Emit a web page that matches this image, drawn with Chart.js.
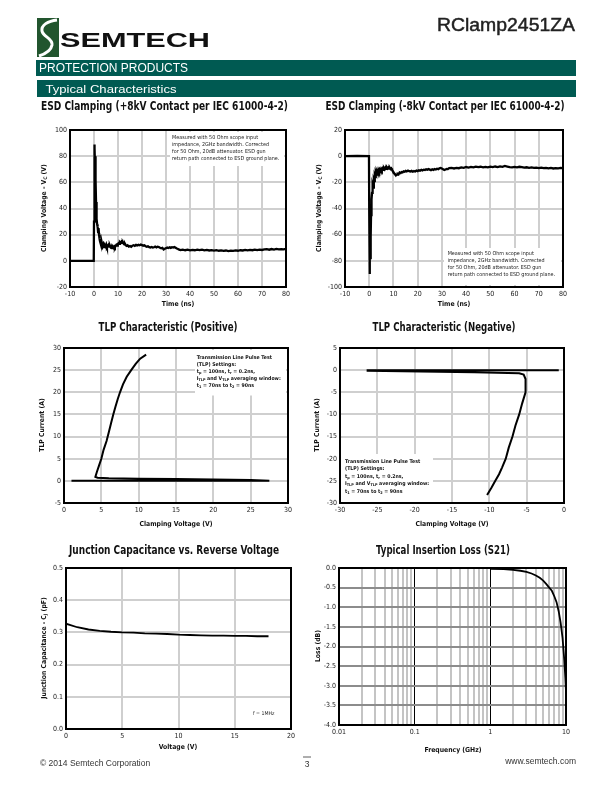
<!DOCTYPE html>
<html><head><meta charset="utf-8">
<script src="https://cdn.jsdelivr.net/npm/chart.js@4/dist/chart.umd.min.js"></script>
<style>
html,body{margin:0;padding:0;background:#fff}
body{width:612px;height:792px;position:relative;overflow:hidden}
canvas{position:absolute}
#ov{position:absolute;left:0;top:0;width:612px;height:792px;pointer-events:none}
.hd{font-family:"Liberation Sans",Arial,sans-serif}
.cn{font-family:"Liberation Sans Narrow","DejaVu Sans Condensed","Liberation Sans",sans-serif}
.bt{font-weight:bold}
</style>
</head><body>
<script>
// ---------- DATA ----------
const esdPosTime = [-10,-0.1,0.0,0.15,0.3,0.45,0.55,0.65,0.75,0.85,1.0,1.15,1.3,1.5,1.7,1.9,2.1,2.3,2.5,2.7,2.9,3.1,3.3,3.6,3.9,4.2,4.5,4.8,5.1,5.4,5.7,6.0,6.3,6.6,6.9,7.2,7.5,7.8,8.1,8.4,8.7,9.0,9.3,9.6,9.9,10.2,10.5,10.8,11.1,11.4,11.7,12.0,12.3,12.6,12.9,13.2,13.6,14.0,14.5,15.0,15.5,16.0,16.5,17.0,17.5,18.0,18.5,19.0,19.5,20.0,20.5,21.0,21.5,22.0,22.5,23.0,23.5,24.0,24.5,25.0,25.5,26.0,26.5,27.0,27.5,28.0,28.5,29.0,29.5,30.0,30.5,31.0,31.5,32.0,32.5,33.0,33.5,34.0,34.5,35.0,35.5,36.0,37,38,39,40,41,42,43,44,45,46,47,48,49,50,51,52,53,54,55,56,57,58,59,60,61,62,63,64,65,66,67,68,69,70,71,72,73,74,75,76,77,78,79,80];
const esdPosVolt = [0,0,30,89,86,70,80,55,62,45,38,32,28,26,22,25,20,17,15,16,13,12,13.5,11,12.5,10.5,12,11,12.5,10.5,11.5,12.2,10.8,11.8,10.5,11.2,9.8,10.8,10.0,11.0,10.2,11.5,12.2,11.6,12.8,13.5,12.9,14.2,13.6,14.5,13.8,14.2,13.2,12.6,13.0,12.0,11.4,11.9,10.9,11.3,10.7,11.6,11.9,11.4,12.2,11.8,12.3,11.9,12.4,12.0,11.6,11.9,11.2,10.8,11.1,10.5,10.2,10.6,10.1,10.4,10.9,10.3,10.8,10.6,10.0,9.6,9.9,8.7,9.3,9.7,10.2,9.8,10.3,9.9,10.4,10.1,10.6,10.0,9.4,9.1,8.5,8.2,8.6,8.1,8.5,8.0,8.4,8.1,8.6,8.2,8.5,8.0,8.3,7.9,8.2,7.8,8.1,7.7,8.0,7.6,7.9,7.5,7.8,7.6,8.0,7.7,8.1,7.9,8.3,8.0,8.4,8.1,8.5,8.2,8.6,8.3,8.7,8.9,8.5,9.0,8.6,9.1,8.7,9.0,8.8,9.1];

const esdNegTime = [-10,-5,-0.1,0.0,0.15,0.3,0.45,0.55,0.65,0.75,0.9,1.0,1.15,1.3,1.5,1.7,1.9,2.1,2.3,2.5,2.7,2.9,3.1,3.4,3.7,4.0,4.3,4.6,4.9,5.2,5.5,5.8,6.1,6.4,6.7,7.0,7.3,7.6,7.9,8.2,8.5,8.8,9.1,9.4,9.7,10.0,10.3,10.6,10.9,11.2,11.5,11.8,12.1,12.4,12.7,13.0,13.4,13.8,14.2,14.6,15.0,15.5,16.0,16.5,17.0,17.5,18.0,18.5,19.0,19.5,20.0,20.5,21.0,21.5,22.0,22.5,23.0,23.5,24.0,24.5,25.0,25.5,26.0,26.5,27.0,27.5,28.0,28.5,29.0,29.5,30.0,30.5,31.0,31.5,32.0,32.5,33.0,34,35,36,37,38,39,40,41,42,43,44,45,46,47,48,49,50,51,52,53,54,55,56,57,58,59,60,61,62,63,64,65,66,67,68,69,70,71,72,73,74,75,76,77,78,79,80];
const esdNegVolt = [0,0.2,0,-40,-90,-70,-78,-55,-62,-45,-40,-33,-28,-26,-22,-24,-18,-19,-15,-16,-13,-14,-11.5,-12.8,-10.5,-12.0,-10.2,-11.3,-9.8,-10.9,-9.5,-10.4,-9.1,-10.0,-8.8,-9.6,-8.6,-9.4,-8.7,-9.5,-8.9,-9.8,-9.3,-10.4,-11.2,-12.3,-13.1,-13.8,-14.2,-14.5,-14.0,-13.6,-13.9,-13.0,-12.6,-12.9,-12.1,-12.4,-11.6,-11.9,-11.2,-11.6,-11.0,-11.5,-11.8,-11.3,-11.9,-11.4,-11.7,-11.0,-11.4,-10.8,-11.1,-10.5,-10.9,-10.3,-10.6,-10.0,-10.4,-9.9,-10.3,-10.7,-10.1,-10.5,-9.8,-10.2,-9.6,-9.9,-9.3,-9.0,-9.4,-10.1,-10.6,-10.2,-9.7,-9.9,-9.2,-9.0,-9.4,-8.9,-9.2,-8.6,-8.9,-8.3,-8.7,-8.2,-8.5,-8.0,-8.4,-8.1,-8.6,-8.2,-8.5,-8.0,-8.4,-7.9,-8.3,-7.8,-8.1,-7.5,-7.9,-8.3,-8.6,-8.2,-8.5,-8.1,-8.4,-8.8,-8.5,-8.9,-8.6,-9.0,-8.7,-9.1,-8.8,-9.2,-8.9,-9.3,-9.0,-9.4,-9.1,-9.3,-9.0,-9.2];

const tlpPosVolt = [1.0,27.5,25,20,15,10,6,4.5,4.2,4.4,4.7,5.0,5.3,5.7,6.0,6.3,6.6,6.9,7.2,7.5,7.9,8.4,9.0,9.6,10.2,11.0];
const tlpPosCurr = [0.0,0.0,0.2,0.3,0.4,0.5,0.6,0.7,0.9,2.0,3.5,5.0,7.0,9.0,11.0,13.0,15.0,16.8,18.5,20.0,21.8,23.5,25.0,26.4,27.6,28.5];

const tlpNegVolt = [-0.7,-26.3,-26.3,-12,-6,-5.4,-5.15,-5.1,-5.2,-5.6,-6.0,-6.5,-6.9,-7.4,-7.8,-8.3,-8.7,-9.2,-9.7,-10.3];
const tlpNegCurr = [0.0,0.0,-0.15,-0.5,-0.7,-1.0,-2.0,-3.5,-5.0,-7.5,-10.0,-12.5,-15.0,-17.5,-20.0,-22.0,-23.5,-25.0,-26.5,-28.2];

const capVolt = [0,1,2,3,4,5,6,7,8,9,10,11,12,13,14,15,16,17,18];
const capPF = [0.327,0.316,0.309,0.305,0.302,0.300,0.299,0.297,0.296,0.295,0.293,0.292,0.291,0.290,0.290,0.289,0.289,0.288,0.288];

const ilFreqGHz = [1.0,1.5,2.0,2.5,3.0,3.5,4.0,4.5,5.0,5.5,6.0,6.5,7.0,7.5,8.0,8.5,9.0,9.5,9.8,10.0];
const ilLossDB = [-0.02,-0.03,-0.05,-0.07,-0.10,-0.14,-0.19,-0.25,-0.32,-0.41,-0.50,-0.58,-0.72,-0.87,-1.10,-1.40,-1.78,-2.35,-2.80,-3.15];

const ilGridFreqs = [0.01,0.02,0.03,0.04,0.05,0.06,0.07,0.08,0.09,0.1,0.2,0.3,0.4,0.5,0.6,0.7,0.8,0.9,1,2,3,4,5,6,7,8,9,10];
const ilTickLabels = [0.01,0.1,1,10];

// ---------- CHART SETUP ----------
const FONT = '"Liberation Sans Narrow","DejaVu Sans Condensed","Liberation Sans",sans-serif';
Chart.defaults.font.family = FONT;
Chart.defaults.font.size = 7;
Chart.defaults.color = '#1a1a1a';
Chart.defaults.animation = false;
Chart.defaults.responsive = false;

const framePlugin = {
  id: 'frame',
  afterDraw(chart) {
    const a = chart.chartArea, c = chart.ctx;
    c.save(); c.strokeStyle = '#000'; c.lineWidth = 2;
    c.strokeRect(a.left, a.top, a.right - a.left, a.bottom - a.top);
    c.restore();
  }
};

function pts(xs, ys) { return xs.map((x, i) => ({x, y: ys[i]})); }

function linAxis(min, max, step, fmt, gridColor) {
  return {
    type: 'linear', min, max,
    ticks: { stepSize: step, padding: 3, autoSkip: false, maxRotation: 0, callback: fmt || (v => String(v)) },
    grid: { color: gridColor || '#cfcfcf', lineWidth: 2, drawTicks: false, tickLength: 0 },
    border: { display: false }
  };
}

function makeChart(area, datasets, xs, ys) {
  const PADL = 40, PADT = 10, PADR = 16, PADB = 22;
  const cv = document.createElement('canvas');
  const x = area.l - PADL, y = area.t - PADT;
  const w = area.r - area.l + PADL + PADR, h = area.b - area.t + PADT + PADB;
  cv.width = w; cv.height = h;
  cv.style.left = x + 'px'; cv.style.top = y + 'px';
  cv.style.width = w + 'px'; cv.style.height = h + 'px';
  document.body.appendChild(cv);
  xs.afterFit = s => { s.height = PADB; };
  ys.afterFit = s => { s.width = PADL; };
  return new Chart(cv, {
    type: 'scatter',
    data: { datasets },
    options: {
      layout: { padding: { left: 0, top: PADT, right: PADR, bottom: 0 } },
      plugins: { legend: { display: false }, tooltip: { enabled: false } },
      scales: { x: xs, y: ys },
      elements: { point: { radius: 0 }, line: { tension: 0 } }
    },
    plugins: [framePlugin]
  });
}

function lineSet(xs, ys, w) {
  return { data: pts(xs, ys), showLine: true, borderColor: '#000', borderWidth: w || 2, pointRadius: 0, fill: false };
}

// Chart 1: ESD +
makeChart({l:70, t:130, r:286, b:287},
  [lineSet(esdPosTime, esdPosVolt, 2.3)],
  linAxis(-10, 80, 10), linAxis(-20, 100, 20));

// Chart 2: ESD -
makeChart({l:345, t:130, r:563, b:287},
  [lineSet(esdNegTime, esdNegVolt, 2.3)],
  linAxis(-10, 80, 10), linAxis(-100, 20, 20));

// Chart 3: TLP positive
makeChart({l:64, t:348, r:288, b:503},
  [lineSet(tlpPosVolt, tlpPosCurr, 2)],
  linAxis(0, 30, 5), linAxis(-5, 30, 5));

// Chart 4: TLP negative
makeChart({l:340, t:348, r:564, b:503},
  [lineSet(tlpNegVolt, tlpNegCurr, 2)],
  linAxis(-30, 0, 5), linAxis(-30, 5, 5));

// Chart 5: capacitance
makeChart({l:66, t:568, r:291, b:729},
  [lineSet(capVolt, capPF, 1.8)],
  linAxis(0, 20, 5), linAxis(0, 0.5, 0.1, v => v.toFixed(1)));

// Chart 6: insertion loss
const ilX = {
  type: 'logarithmic', min: 0.01, max: 10,
  afterBuildTicks: s => { s.ticks = ilGridFreqs.map(v => ({value: v})); },
  ticks: { autoSkip: false, maxRotation: 0, padding: 3, callback: v => ilTickLabels.includes(v) ? String(v) : '' },
  grid: {
    drawTicks: false, tickLength: 0,
    color: c => (c.tick && (c.tick.value === 0.1 || c.tick.value === 1)) ? '#000' : '#c4c4c4',
    lineWidth: c => (c.tick && (c.tick.value === 0.1 || c.tick.value === 1)) ? 1 : 2
  },
  border: { display: false }
};
makeChart({l:339, t:568, r:566, b:725},
  [lineSet(ilFreqGHz, ilLossDB, 1.8)],
  ilX, linAxis(-4, 0, 0.5, v => v.toFixed(1), '#8c8c8c'));
</script>

<svg id="ov" xmlns="http://www.w3.org/2000/svg" width="612" height="792" viewBox="0 0 612 792">
  <!-- Header -->
  <rect x="37" y="18" width="22" height="39" fill="#22552e"/>
  <path d="M21,20 C12,21 5,25 6,31 C7,37 17,38 16,45 C15,51 9,54 3,56" transform="translate(36,0)" fill="none" stroke="#fff" stroke-width="3"/>
  <text class="hd" x="60" y="47" font-size="21" font-weight="900" textLength="150" lengthAdjust="spacingAndGlyphs" fill="#111">SEMTECH</text>
  <text class="hd" x="575" y="31" text-anchor="end" font-size="17.5" fill="#222" stroke="#222" stroke-width="0.45" textLength="138" lengthAdjust="spacingAndGlyphs">RClamp2451ZA</text>
  <rect x="36" y="60" width="540" height="16" fill="#005a52"/>
  <text class="hd" x="39" y="72" font-size="12.5" fill="#fff" textLength="149" lengthAdjust="spacingAndGlyphs">PROTECTION PRODUCTS</text>
  <rect x="37" y="80" width="539" height="17" fill="#005a52"/>
  <text class="hd" x="45.5" y="92.5" font-size="11.5" fill="#fff" textLength="131" lengthAdjust="spacingAndGlyphs">Typical Characteristics</text>

  <!-- Chart titles -->
  <g class="cn bt" font-size="11.5" fill="#111" text-anchor="middle">
    <text x="164.5" y="110" textLength="247" lengthAdjust="spacingAndGlyphs">ESD Clamping (+8kV Contact per IEC 61000-4-2)</text>
    <text x="445" y="110" textLength="239" lengthAdjust="spacingAndGlyphs">ESD Clamping (-8kV Contact per IEC 61000-4-2)</text>
    <text x="168" y="331" textLength="139" lengthAdjust="spacingAndGlyphs">TLP Characteristic (Positive)</text>
    <text x="444" y="331" textLength="143" lengthAdjust="spacingAndGlyphs">TLP Characteristic (Negative)</text>
    <text x="174" y="554" textLength="210" lengthAdjust="spacingAndGlyphs">Junction Capacitance vs. Reverse Voltage</text>
    <text x="443" y="554" textLength="134" lengthAdjust="spacingAndGlyphs">Typical Insertion Loss (S21)</text>
  </g>

  <!-- Axis titles -->
  <g class="cn bt" font-size="6.8" fill="#111" text-anchor="middle">
    <text x="178" y="305.5">Time (ns)</text>
    <text x="454" y="305.5">Time (ns)</text>
    <text transform="translate(45.5,208) rotate(-90)">Clamping Voltage - V<tspan font-size="4.8" dy="1.2">C</tspan><tspan dy="-1.2"> (V)</tspan></text>
    <text transform="translate(320.5,208) rotate(-90)">Clamping Voltage - V<tspan font-size="4.8" dy="1.2">C</tspan><tspan dy="-1.2"> (V)</tspan></text>
    <text x="176" y="525.5">Clamping Voltage (V)</text>
    <text x="452" y="525.5">Clamping Voltage (V)</text>
    <text transform="translate(44,425) rotate(-90)">TLP Current (A)</text>
    <text transform="translate(319,425) rotate(-90)">TLP Current (A)</text>
    <text x="178" y="748.5">Voltage (V)</text>
    <text transform="translate(45.5,648) rotate(-90)">Junction Capacitance - C<tspan font-size="4.8" dy="1.2">J</tspan><tspan dy="-1.2"> (pF)</tspan></text>
    <text x="453" y="752">Frequency (GHz)</text>
    <text transform="translate(319.5,646) rotate(-90)">Loss (dB)</text>
  </g>

  <!-- Annotations -->
  <rect x="170" y="132" width="114" height="34" fill="#fff"/>
  <g class="cn" font-size="5.4" fill="#222">
    <text x="172" y="139.2">Measured with 50 Ohm scope input</text>
    <text x="172" y="145.9">impedance, 2GHz bandwidth. Corrected</text>
    <text x="172" y="152.6">for 50 Ohm, 20dB attenuator. ESD gun</text>
    <text x="172" y="159.6">return path connected to ESD ground plane.</text>
  </g>
  <rect x="444" y="248" width="117" height="37" fill="#fff"/>
  <g class="cn" font-size="5.4" fill="#222">
    <text x="447.7" y="255.2">Measured with 50 Ohm scope input</text>
    <text x="447.7" y="261.9">impedance, 2GHz bandwidth. Corrected</text>
    <text x="447.7" y="268.9">for 50 Ohm, 20dB attenuator. ESD gun</text>
    <text x="447.7" y="275.9">return path connected to ESD ground plane.</text>
  </g>
  <rect x="195" y="350" width="91" height="45.5" fill="#fff"/>
  <g class="cn bt" font-size="5.2" fill="#111">
    <text x="196.7" y="358.5">Transmission Line Pulse Test</text>
    <text x="196.7" y="365.5">(TLP) Settings:</text>
    <text x="196.7" y="372.5">t<tspan font-size="3.8" dy="1">p</tspan><tspan dy="-1"> = 100ns, t</tspan><tspan font-size="3.8" dy="1">r</tspan><tspan dy="-1"> = 0.2ns,</tspan></text>
    <text x="196.7" y="379.5">I<tspan font-size="3.8" dy="1">TLP</tspan><tspan dy="-1"> and V</tspan><tspan font-size="3.8" dy="1">TLP</tspan><tspan dy="-1"> averaging window:</tspan></text>
    <text x="196.7" y="386.8">t<tspan font-size="3.8" dy="1">1</tspan><tspan dy="-1"> = 70ns to t</tspan><tspan font-size="3.8" dy="1">2</tspan><tspan dy="-1"> = 90ns</tspan></text>
  </g>
  <rect x="341" y="454" width="92" height="48" fill="#fff"/>
  <g class="cn bt" font-size="5.2" fill="#111">
    <text x="345" y="462.5">Transmission Line Pulse Test</text>
    <text x="345" y="470.1">(TLP) Settings:</text>
    <text x="345" y="477.8">t<tspan font-size="3.8" dy="1">p</tspan><tspan dy="-1"> = 100ns, t</tspan><tspan font-size="3.8" dy="1">r</tspan><tspan dy="-1"> = 0.2ns,</tspan></text>
    <text x="345" y="485.1">I<tspan font-size="3.8" dy="1">TLP</tspan><tspan dy="-1"> and V</tspan><tspan font-size="3.8" dy="1">TLP</tspan><tspan dy="-1"> averaging window:</tspan></text>
    <text x="345" y="492.8">t<tspan font-size="3.8" dy="1">1</tspan><tspan dy="-1"> = 70ns to t</tspan><tspan font-size="3.8" dy="1">2</tspan><tspan dy="-1"> = 90ns</tspan></text>
  </g>
  <text class="cn" x="253" y="715" font-size="5.2" fill="#222">f = 1MHz</text>

  <!-- Footer -->
  <text class="hd" x="40" y="766" font-size="8.5" fill="#333">© 2014 Semtech Corporation</text>
  <line x1="303" y1="757" x2="311" y2="757" stroke="#333" stroke-width="0.8"/>
  <text class="hd" x="307" y="767" font-size="8.5" fill="#333" text-anchor="middle">3</text>
  <text class="hd" x="576" y="764" font-size="8.5" fill="#333" text-anchor="end">www.semtech.com</text>
</svg>
</body></html>
